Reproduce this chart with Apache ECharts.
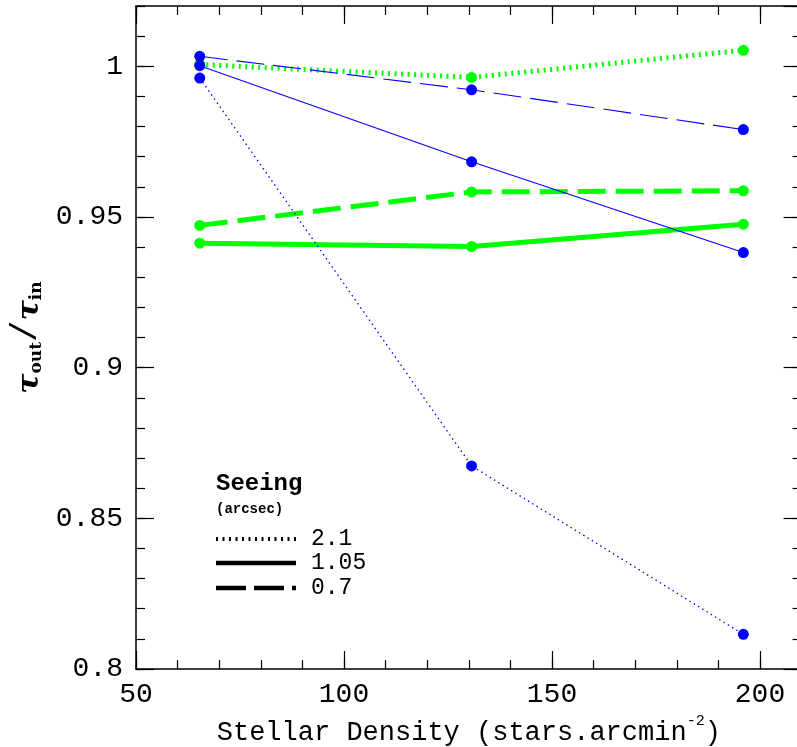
<!DOCTYPE html>
<html>
<head>
<meta charset="utf-8">
<script src="https://cdn.jsdelivr.net/npm/echarts@6/dist/echarts.min.js"></script>
<style>
  html, body { margin: 0; padding: 0; background: #fff; overflow: hidden; }
  #chart { width: 797px; height: 747px; }
</style>
</head>
<body>
<div id="chart"></div>
<script>
// Stellar densities (stars per square arcmin) of the three test fields
const densities = [65.33, 130.67, 196.0];

// tau_out / tau_in ratios, green method, per seeing (arcsec)
const greenSeeing21 = [1.0006, 0.9963, 1.0053];
const greenSeeing105 = [0.9413, 0.9402, 0.9476];
const greenSeeing07 = [0.9472, 0.9583, 0.9587];

// tau_out / tau_in ratios, blue method, per seeing (arcsec)
const blueSeeing21 = [0.9961, 0.8674, 0.8115];
const blueSeeing105 = [1.0002, 0.9683, 0.9382];
const blueSeeing07 = [1.0033, 0.9922, 0.9790];

// Legend entries (seeing in arcsec)
const seeingLabels = ['2.1', '1.05', '0.7'];

const X_MIN = 50, X_MAX = 210, X_MAJOR = 50, X_MINOR = 10;
const Y_MIN = 0.8, Y_MAX = 1.02, Y_MAJOR = 0.05, Y_MINOR = 0.01;

const MONO = '"Liberation Mono", "DejaVu Sans Mono", monospace';
const SERIF = '"DejaVu Serif", "Liberation Serif", serif';
const GREEN = '#00ff00';
const BLUE = '#0000ff';

// The frame runs a few pixels past the right edge of the page
const GRID = { left: 136, width: 665.6, top: 6, bottom: 78, outerBoundsMode: 'none', containLabel: false };

function pairs(ys) {
  return densities.map((x, i) => [x, ys[i]]);
}

// One framing axis; major axes carry the frame line and long ticks,
// minor axes (on a twin grid) carry the short ticks.
function xFrame(gridIndex, position, interval, tickLen, extra) {
  return Object.assign({
    type: 'value', gridIndex, position, min: X_MIN, max: X_MAX, interval,
    axisLine: { show: gridIndex === 0, onZero: false, lineStyle: { color: '#000', width: 1.5 } },
    axisTick: { show: true, inside: true, length: tickLen, lineStyle: { color: '#000', width: 1.2 } },
    axisLabel: { show: false },
    splitLine: { show: false }
  }, extra || {});
}
function yFrame(gridIndex, position, interval, tickLen, extra) {
  return Object.assign({
    type: 'value', gridIndex, position, min: Y_MIN, max: Y_MAX, interval,
    axisLine: { show: gridIndex === 0 && position === 'left', onZero: false, lineStyle: { color: '#000', width: 1.5 } },
    axisTick: { show: true, inside: true, length: tickLen, lineStyle: { color: '#000', width: 1.2 } },
    axisLabel: { show: false },
    splitLine: { show: false }
  }, extra || {});
}

const xAxes = [
  xFrame(0, 'bottom', X_MAJOR, 18, {
    axisLabel: { show: true, margin: 12, color: '#000', fontFamily: MONO, fontSize: 28, showMaxLabel: false },
    name: '{n|Stellar Density (stars.arcmin}{sup|-2}{n|)}',
    nameLocation: 'middle', nameGap: 44,
    nameTextStyle: {
      color: '#000',
      rich: {
        n: { fontFamily: MONO, fontSize: 27, color: '#000', lineHeight: 32, verticalAlign: 'bottom' },
        sup: { fontFamily: MONO, fontSize: 15, color: '#000', lineHeight: 30, verticalAlign: 'top' }
      }
    }
  }),
  xFrame(0, 'top', X_MAJOR, 18),
  xFrame(1, 'bottom', X_MINOR, 9),
  xFrame(1, 'top', X_MINOR, 9)
];

const yAxes = [
  yFrame(0, 'left', Y_MAJOR, 18, {
    axisLabel: { show: true, margin: 13, color: '#000', fontFamily: MONO, fontSize: 28, showMaxLabel: false },
    name: '{t|τ}{s|out}{sl|/}{t|τ}{s|in}',
    nameLocation: 'middle', nameRotate: 90, nameGap: 88,
    nameTextStyle: {
      color: '#000',
      rich: {
        t: { fontFamily: SERIF, fontStyle: 'italic', fontWeight: 'bold', fontSize: 30, color: '#000', lineHeight: 34, verticalAlign: 'bottom' },
        sl: { fontFamily: MONO, fontSize: 36, color: '#000', lineHeight: 34, verticalAlign: 'bottom' },
        s: { fontFamily: SERIF, fontWeight: 'bold', fontSize: 17, color: '#000', lineHeight: 14, verticalAlign: 'bottom' }
      }
    }
  }),
  yFrame(0, 'right', Y_MAJOR, 18),
  yFrame(1, 'left', Y_MINOR, 9),
  yFrame(1, 'right', Y_MINOR, 9)
];

function lineSeries(name, ys, color, width, dash, size) {
  return {
    name, type: 'line', xAxisIndex: 0, yAxisIndex: 0,
    data: pairs(ys),
    symbol: 'circle', symbolSize: size,
    itemStyle: { color },
    lineStyle: { color, width, type: dash, cap: 'butt' },
    emphasis: { disabled: true },
    animation: false
  };
}

const series = [
  lineSeries('green 2.1', greenSeeing21, GREEN, 5, [2, 4.5], 11),
  lineSeries('green 1.05', greenSeeing105, GREEN, 5, 'solid', 11),
  lineSeries('green 0.7', greenSeeing07, GREEN, 5, [28, 10], 11),
  lineSeries('blue 2.1', blueSeeing21, BLUE, 1.3, [1.5, 3.5], 11),
  lineSeries('blue 1.05', blueSeeing105, BLUE, 1.1, 'solid', 11),
  lineSeries('blue 0.7', blueSeeing07, BLUE, 1.1, [28, 9], 11)
];

// Seeing key: black line samples with their values
const keyX1 = 216, keyX2 = 296, keyTextX = 311;
const keyRows = [
  { y: 539, dash: [2, 4.5], width: 4 },
  { y: 563, dash: null, width: 4.5 },
  { y: 588, dash: [30, 8], width: 4.5 }
];
const graphic = [
  { type: 'text', left: 216, top: 472, style: { text: 'Seeing', font: 'bold 24px ' + MONO, fill: '#000' } },
  { type: 'text', left: 216, top: 502, style: { text: '(arcsec)', font: 'bold 14px ' + MONO, fill: '#000' } }
];
keyRows.forEach((r, i) => {
  graphic.push({
    type: 'line',
    shape: { x1: keyX1, y1: r.y, x2: keyX2, y2: r.y },
    style: { stroke: '#000', lineWidth: r.width, lineDash: r.dash, lineCap: 'butt' }
  });
  graphic.push({
    type: 'text', x: keyTextX, y: r.y,
    style: { text: seeingLabels[i], font: '23px ' + MONO, fill: '#000', verticalAlign: 'middle', align: 'left' }
  });
});

const chart = echarts.init(document.getElementById('chart'), null, { renderer: 'canvas' });
chart.setOption({
  backgroundColor: '#fff',
  animation: false,
  grid: [Object.assign({}, GRID), Object.assign({}, GRID)],
  xAxis: xAxes,
  yAxis: yAxes,
  series,
  graphic
});
</script>
</body>
</html>
